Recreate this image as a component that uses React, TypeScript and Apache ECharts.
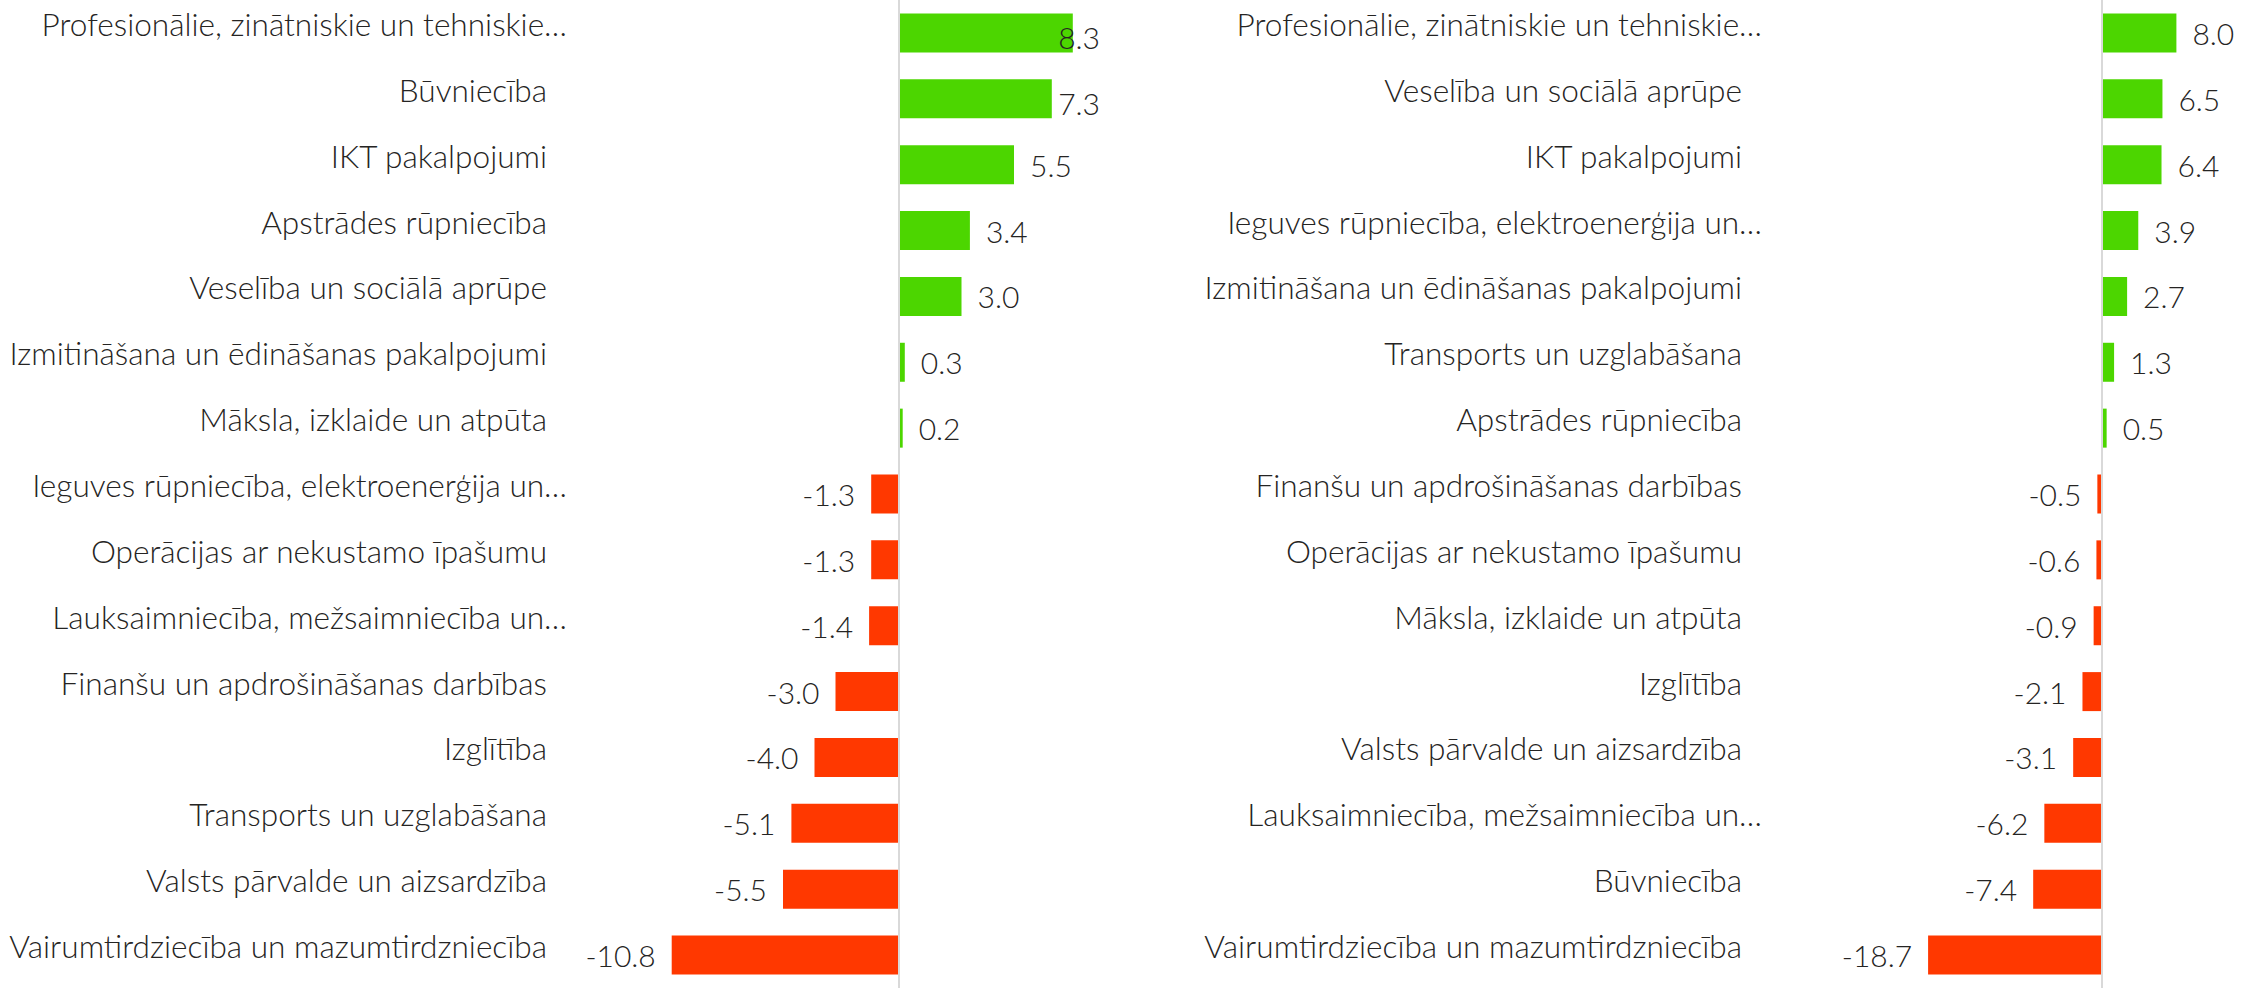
import React, { useEffect, useRef } from "react";
import * as echarts from "echarts";

const leftCategories = [
  "Profesionālie, zinātniskie un tehniskie…",
  "Būvniecība",
  "IKT pakalpojumi",
  "Apstrādes rūpniecība",
  "Veselība un sociālā aprūpe",
  "Izmitināšana un ēdināšanas pakalpojumi",
  "Māksla, izklaide un atpūta",
  "Ieguves rūpniecība, elektroenerģija un…",
  "Operācijas ar nekustamo īpašumu",
  "Lauksaimniecība, mežsaimniecība un…",
  "Finanšu un apdrošināšanas darbības",
  "Izglītība",
  "Transports un uzglabāšana",
  "Valsts pārvalde un aizsardzība",
  "Vairumtirdziecība un mazumtirdzniecība",
];
const leftValues = [8.3, 7.3, 5.5, 3.4, 3.0, 0.3, 0.2, -1.3, -1.3, -1.4, -3.0, -4.0, -5.1, -5.5, -10.8];

const rightCategories = [
  "Profesionālie, zinātniskie un tehniskie…",
  "Veselība un sociālā aprūpe",
  "IKT pakalpojumi",
  "Ieguves rūpniecība, elektroenerģija un…",
  "Izmitināšana un ēdināšanas pakalpojumi",
  "Transports un uzglabāšana",
  "Apstrādes rūpniecība",
  "Finanšu un apdrošināšanas darbības",
  "Operācijas ar nekustamo īpašumu",
  "Māksla, izklaide un atpūta",
  "Izglītība",
  "Valsts pārvalde un aizsardzība",
  "Lauksaimniecība, mežsaimniecība un…",
  "Būvniecība",
  "Vairumtirdziecība un mazumtirdzniecība",
];
const rightValues = [8.0, 6.5, 6.4, 3.9, 2.7, 1.3, 0.5, -0.5, -0.6, -0.9, -2.1, -3.1, -6.2, -7.4, -18.7];

const GREEN = "#4CD600";
const RED = "#FF3800";
const TEXT = "#252423";
const FONT = "Lato, 'Open Sans', sans-serif";
const CAT_SIZE = 31.6;
const VAL_SIZE = 30;

function buildData(vals: number[]) {
  return vals.map((v) => ({
    value: v,
    itemStyle: { color: v >= 0 ? GREEN : RED },
    label: { position: v >= 0 ? "right" : "left" },
  }));
}

function yAxisFor(cats: string[], gridIndex: number, margin: number) {
  return {
    type: "category",
    gridIndex,
    data: cats,
    inverse: true,
    axisLine: { show: false },
    axisTick: { show: false },
    axisLabel: {
      margin,
      fontSize: CAT_SIZE,
      fontFamily: FONT,
      fontWeight: 300,
      color: TEXT,
      formatter: (s: string) => (s.endsWith("…") ? `{e|${s}}` : `{n|${s}}`),
      rich: {
        n: { padding: [0, 20, 18, 0], fontSize: CAT_SIZE, fontFamily: FONT, fontWeight: 300, color: TEXT },
        e: { padding: [0, 0, 18, 0], fontSize: CAT_SIZE, fontFamily: FONT, fontWeight: 300, color: TEXT },
      },
    },
  };
}

function seriesFor(vals: number[], idx: number) {
  return {
    type: "bar",
    xAxisIndex: idx,
    yAxisIndex: idx,
    data: buildData(vals),
    barWidth: 39,
    label: {
      show: true,
      distance: 16,
      offset: [0, 4],
      fontSize: VAL_SIZE,
      fontFamily: FONT,
      fontWeight: 300,
      color: TEXT,
      formatter: (p: any) => Number(p.value).toFixed(1),
    },
    markLine: {
      silent: true,
      symbol: ["none", "none"],
      label: { show: false },
      lineStyle: { color: "#d9d9d9", width: 2, type: "solid" },
      data: [{ xAxis: 0 }],
    },
  };
}

const LIMITS = [1100, 2250];

export default function App() {
  const ref = useRef<HTMLDivElement>(null);
  useEffect(() => {
    document.body.style.margin = "0";
    const chart = echarts.init(ref.current!, undefined, { renderer: "svg" });
    chart.setOption({
      animation: false,
      backgroundColor: "#ffffff",
      grid: [
        { left: 583.5, width: 525, top: -2, height: 996 },
        { left: 1916, width: 334.8, top: -2, height: 996 },
      ],
      xAxis: [
        { type: "value", gridIndex: 0, min: -15, max: 10, show: false },
        { type: "value", gridIndex: 1, min: -20, max: 16, show: false },
      ],
      yAxis: [yAxisFor(leftCategories, 0, 16.5), yAxisFor(rightCategories, 1, 154)],
      series: [seriesFor(leftValues, 0), seriesFor(rightValues, 1)],
      labelLayout: (params: any) => {
        const lim = LIMITS[params.seriesIndex];
        const r = params.labelRect;
        if (r && r.x + r.width > lim) {
          return {
            x: lim - r.width,
            y: r.y + r.height / 2,
            align: "left",
            verticalAlign: "middle",
          };
        }
        return {};
      },
    });
    return () => chart.dispose();
  }, []);
  return <div ref={ref} style={{ width: 2260, height: 988 }} />;
}
